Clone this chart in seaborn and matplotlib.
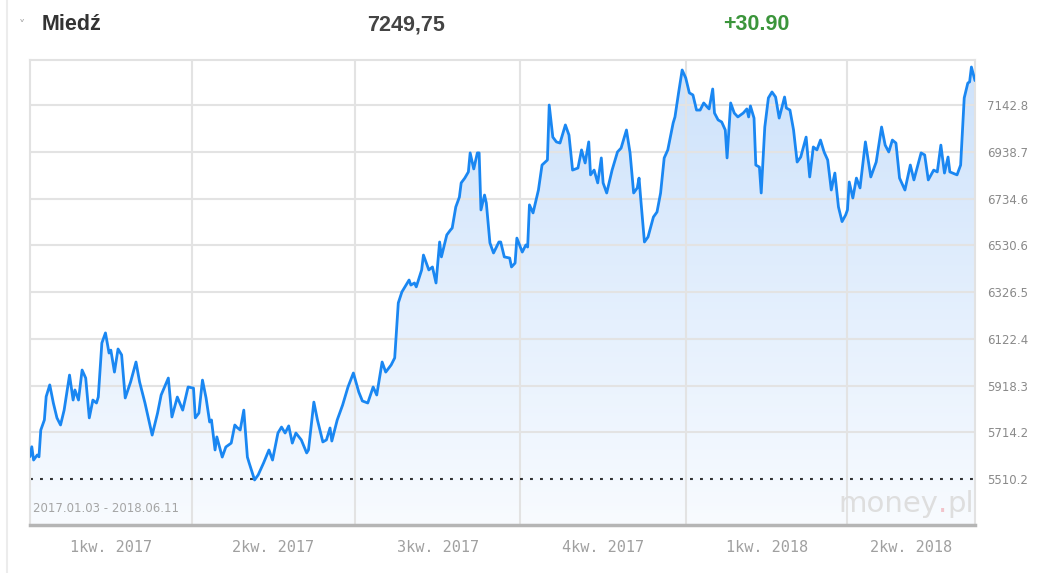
import numpy as np
import pandas as pd
import matplotlib
matplotlib.use("Agg")
import matplotlib.pyplot as plt
import matplotlib.dates as mdates
from matplotlib.colors import LinearSegmentedColormap
import seaborn as sns

# ---------------- data ----------------
start_date = "2017-01-01"
end_date = "2018-06-11"

day_offsets = [
    0, 1, 2, 4, 5, 6, 8, 9, 11, 13, 15, 17, 19, 22, 24, 25, 27, 29, 31, 33,
    35, 37, 38, 40, 42, 44, 45, 47, 49, 51, 53, 56, 59, 61, 64, 68, 71, 73, 77, 79,
    82, 85, 88, 91, 92,
    94, 96, 98, 100, 101, 103, 104, 107, 109, 112, 114, 115, 117, 119, 121, 122, 125, 127, 130, 133,
    135, 138, 140, 142, 144, 146, 148, 151, 154, 155, 158, 160, 163, 165, 167, 168, 171, 174, 177, 180,
    183, 185,
    188, 191, 193, 196, 198, 201, 203, 205, 207, 211, 212, 214, 215, 218, 219, 222, 224, 226, 228, 229,
    232, 234, 235, 237, 239, 240, 242, 244, 245, 247, 249, 250, 251, 253, 254, 256, 258, 261, 262, 264,
    267, 268, 270, 271, 274, 276, 277,
    278, 280, 283, 285, 288, 289, 291, 293, 295, 298, 300, 302, 305, 307, 309, 311, 312, 314, 316, 318,
    319, 321, 324, 327, 329, 332, 334, 336, 338, 339, 340, 342, 344, 347, 349, 351, 353, 355, 358, 359,
    361, 363,
    365, 367, 369, 371, 373, 375, 377, 378, 380, 381, 383, 385, 387, 388, 390, 392, 394, 397, 399, 400,
    401, 403, 404, 406, 407, 409, 411, 413, 415, 417, 420, 421, 423, 425, 427, 429, 432, 434, 436, 438,
    440, 442, 444, 446, 448, 449, 450, 452,
    454, 455, 456, 458, 460, 462, 465, 468, 471, 474, 476, 478, 480, 482, 484, 487, 490, 492, 496, 498,
    500, 503, 505, 507, 509, 511, 512, 516, 518, 520, 522, 523, 524, 526,
]

prices = [
    5608, 5651, 5593, 5615, 5607, 5724, 5768, 5870, 5921, 5842, 5777, 5746, 5811, 5964, 5855, 5899, 5855, 5986, 5951, 5777,
    5855, 5842, 5868, 6104, 6148, 6060, 6073, 5977, 6078, 6052, 5864, 5934, 6021, 5934, 5842, 5702, 5798, 5877, 5951, 5781,
    5868, 5811, 5912, 5907, 5777,
    5798, 5942, 5864, 5759, 5768, 5637, 5694, 5606, 5650, 5667, 5746, 5737, 5724, 5811, 5606, 5580, 5506, 5528, 5580, 5637,
    5593, 5711, 5737, 5711, 5742, 5667, 5711, 5681, 5624, 5637, 5846, 5768, 5672, 5681, 5733, 5676, 5768, 5833, 5912, 5973,
    5890, 5851,
    5842, 5912, 5877, 6021, 5977, 6008, 6039, 6279, 6327, 6379, 6357, 6366, 6349, 6423, 6488, 6423, 6436, 6366, 6545, 6480,
    6576, 6597, 6606, 6698, 6741, 6803, 6824, 6851, 6934, 6864, 6934, 6934, 6685, 6750, 6715, 6541, 6497, 6545, 6545, 6480,
    6475, 6436, 6453, 6562, 6501, 6532, 6523,
    6707, 6672, 6772, 6881, 6903, 7143, 7003, 6982, 6977, 7056, 7012, 6859, 6868, 6947, 6890, 6982, 6838, 6859, 6803, 6912,
    6803, 6759, 6859, 6938, 6955, 7034, 6934, 6759, 6781, 6824, 6728, 6545, 6567, 6654, 6676, 6759, 6912, 6947, 7065, 7091,
    7196, 7296,
    7261, 7196, 7187, 7121, 7121, 7152, 7134, 7126, 7213, 7108, 7078, 7069, 7034, 6912, 7152, 7108, 7091, 7108, 7126, 7091,
    7139, 7086, 6881, 6872, 6759, 7047, 7174, 7200, 7178, 7086, 7178, 7130, 7121, 7034, 6894, 6916, 7003, 6829, 6960, 6947,
    6990, 6938, 6903, 6772, 6846, 6772, 6698, 6634,
    6663, 6685, 6807, 6737, 6824, 6781, 6982, 6829, 6894, 7047, 6968, 6938, 6990, 6977, 6824, 6772, 6881, 6816, 6934, 6925,
    6816, 6859, 6851, 6968, 6846, 6916, 6851, 6838, 6881, 7174, 7239, 7244, 7309, 7249.75,
]

y_ticks = [5510.2, 5714.2, 5918.3, 6122.4, 6326.5, 6530.6, 6734.6, 6938.7, 7142.8]
y_limits = [5309.4, 7339.6]
quarter_starts = ["2017-01-01", "2017-04-01", "2017-07-01", "2017-10-01",
                  "2018-01-01", "2018-04-01", "2018-06-11"]
quarter_labels = ["1kw. 2017", "2kw. 2017", "3kw. 2017", "4kw. 2017", "1kw. 2018", "2kw. 2018"]
baseline_value = 5510.2

title_name = "Miedź"
last_value_text = "7249,75"
change_text = "+30.90"
range_text = "2017.01.03 - 2018.06.11"

# ---------------- style ----------------
sns.set_theme(style="white")
plt.rcParams["font.family"] = ["DejaVu Sans"]

W, H = 1054, 573
fig = plt.figure(figsize=(W / 100, H / 100), dpi=100)
fig.patch.set_facecolor("white")
ax = fig.add_axes([30 / W, 48 / H, 945 / W, 465 / H])
ax.set_facecolor("white")

df = pd.DataFrame({
    "date": pd.Timestamp(start_date) + pd.to_timedelta(day_offsets, unit="D"),
    "price": prices,
})

x0, x1 = pd.Timestamp(start_date), pd.Timestamp(end_date)
ylo, yhi = y_limits

# gradient area under line
cmap = LinearSegmentedColormap.from_list("fillgrad", ["#f8fbff", "#cde2fb"])
grad = np.linspace(0, 1, 256).reshape(-1, 1)
im = ax.imshow(grad, aspect="auto", cmap=cmap, origin="lower",
               extent=[mdates.date2num(x0), mdates.date2num(x1), ylo, yhi],
               zorder=1, interpolation="bilinear")
poly = ax.fill_between(df["date"], df["price"], ylo, facecolor="none", lw=0, zorder=1)
im.set_clip_path(poly.get_paths()[0], transform=ax.transData)

# grid
for v in y_ticks[1:]:
    ax.axhline(v, color="#e3e3e3", lw=1.5, zorder=2)
for q in quarter_starts[1:-1]:
    ax.axvline(pd.Timestamp(q), color="#e3e3e3", lw=1.5, zorder=2)
ax.axhline(baseline_value, color="#333333", lw=1.5, ls=(0, (1.4, 3.4)), zorder=2.5)

# line
sns.lineplot(data=df, x="date", y="price", ax=ax, color="#1a87f2", linewidth=2.0,
             zorder=3, legend=False)

ax.set_xlim(x0, x1)
ax.set_ylim(ylo, yhi)
ax.set_xlabel("")
ax.set_ylabel("")

# spines
for s in ["top", "left", "right"]:
    ax.spines[s].set_color("#e2e2e2")
    ax.spines[s].set_linewidth(1.5)
ax.spines["bottom"].set_color("#b5b5b5")
ax.spines["bottom"].set_linewidth(2.5)

# y ticks on right
ax.yaxis.tick_right()
ax.set_yticks(y_ticks)
ax.set_yticklabels([f"{v:.1f}" for v in y_ticks])
ax.tick_params(axis="y", length=0, pad=9, labelsize=8.5, labelcolor="#8a8a8a")

# x ticks: labels centered in quarters
qs = [pd.Timestamp(q) for q in quarter_starts]
mids = [qs[i] + (qs[i + 1] - qs[i]) / 2 for i in range(len(qs) - 1)]
ax.set_xticks(mids)
ax.set_xticklabels(quarter_labels, family="DejaVu Sans Mono")
ax.tick_params(axis="x", length=0, pad=11, labelsize=11, labelcolor="#a0a0a0")
ax.grid(False)

# header
hy = 1 - 25 / H
fig.text(22 / W, 1 - 26 / H, "˅", fontsize=9, color="#a8a8a8", va="center", ha="center")
fig.text(42 / W, hy, title_name, fontsize=15.5, fontweight="bold", color="#333333",
         va="center", ha="left", family="Liberation Sans")
fig.text(367 / W, hy, last_value_text, fontsize=15.5, fontweight="bold", color="#444444",
         va="center", ha="left", family="Liberation Sans")
fig.text(723 / W, hy, change_text, fontsize=15.5, fontweight="bold", color="#3b953b",
         va="center", ha="left", family="Liberation Sans")

# left panel border
fig.add_artist(plt.Line2D([7 / W, 7 / W], [0, 1], color="#ececec", lw=1.5))

# range label inside plot
ax.text(0.003, 0.035, range_text, transform=ax.transAxes, fontsize=8.5, color="#a5a5a5",
        ha="left", va="center", zorder=4)

# watermark money.pl
fig.canvas.draw()
renderer = fig.canvas.get_renderer()
wm_y = 0.045
t_pl = ax.text(0.999, wm_y, "pl", transform=ax.transAxes, fontsize=21, color="#dedede",
               ha="right", va="center", zorder=4)
bb = t_pl.get_window_extent(renderer).transformed(ax.transAxes.inverted())
t_dot = ax.text(bb.x0, wm_y, ".", transform=ax.transAxes, fontsize=21, color="#f2c4cb",
                ha="right", va="center", zorder=4)
bb2 = t_dot.get_window_extent(renderer).transformed(ax.transAxes.inverted())
ax.text(bb2.x0, wm_y, "money", transform=ax.transAxes, fontsize=21, color="#dedede",
        ha="right", va="center", zorder=4)

fig.savefig("out.png", dpi=100, facecolor="white")
